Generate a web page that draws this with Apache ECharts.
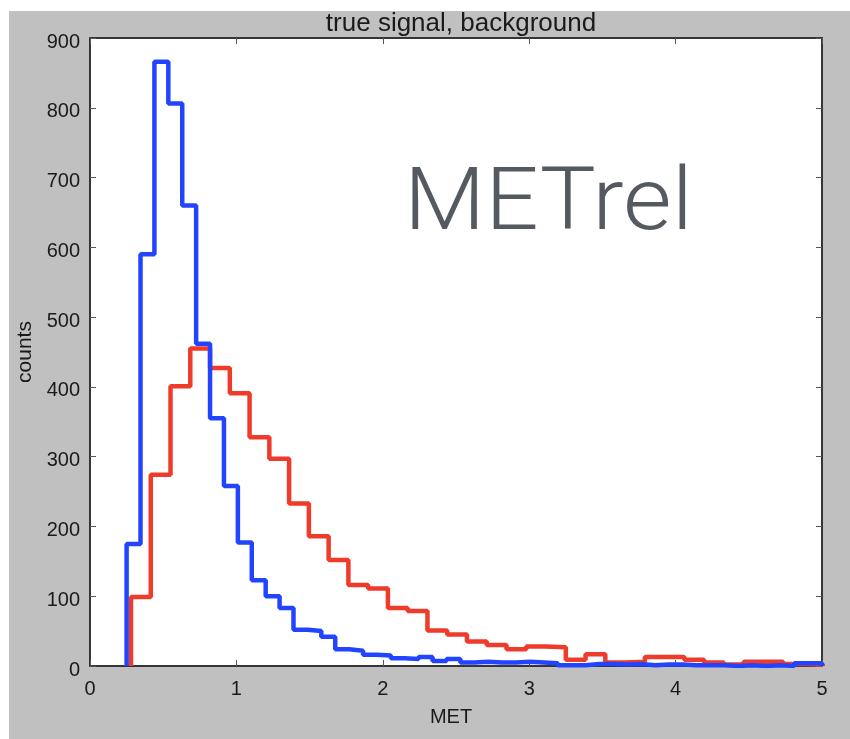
<!DOCTYPE html>
<html>
<head>
<meta charset="utf-8">
<script src="https://cdn.jsdelivr.net/npm/echarts@6/dist/echarts.min.js"></script>
<style>
  html, body { margin: 0; padding: 0; background: #fff; }
  #chart { width: 850px; height: 739px; }
</style>
</head>
<body>
<div id="chart"></div>
<script>
// Histogram of MET for the two samples (bin start, bin width, counts per bin)
const blueStart = 0.25;
const blueWidth = 0.095;
const blueCounts = [
  175, 590, 866, 806, 660, 462, 355, 258, 177, 123,
  100, 83, 52, 50, 42, 24, 22, 16, 15, 11,
  10, 13, 7, 10, 5, 6, 5, 5, 6, 5,
  4, 1, 1, 3, 3, 2, 3, 1, 2, 2,
  1, 1, 1, 0, 1, 0, 1, 0, 4, 4
];

const redStart = 0.28;
const redWidth = 0.135;
const redCounts = [
  99, 274, 401, 455, 427, 391, 328, 297, 233, 186,
  152, 116, 111, 83, 79, 51, 45, 35, 30, 24,
  28, 27, 9, 17, 5, 6, 13, 13, 9, 5,
  2, 6, 6, 3, 2
];

const xTickValues = [0, 1, 2, 3, 4, 5];
const yTickValues = [0, 100, 200, 300, 400, 500, 600, 700, 800, 900];

// Turn bin counts into outline points for a stepped line
function outline(start, width, counts) {
  const pts = [[start, 0]];
  counts.forEach((c, i) => pts.push([start + i * width, c]));
  const end = start + counts.length * width;
  pts.push([end, counts[counts.length - 1]]);
  pts.push([end, 0]);
  return pts;
}

const chart = echarts.init(document.getElementById('chart'));

const FONT = 'Liberation Sans, Arial, sans-serif';
const axisLineStyle = { color: '#2b2b2b', width: 1.5 };
const tickStyle = { show: true, inside: true, length: 6, lineStyle: { color: '#555', width: 1 } };
const labelFont = { color: '#1a1a1a', fontSize: 20, fontFamily: FONT };

function xAxis(position, withLabels) {
  return {
    type: 'value', position: position, min: 0, max: 5, interval: 1,
    axisLine: { show: true, onZero: false, lineStyle: axisLineStyle },
    axisTick: tickStyle,
    splitLine: { show: false },
    axisLabel: withLabels ? Object.assign({ margin: 13, formatter: v => xTickValues.includes(v) ? String(v) : '' }, labelFont) : { show: false },
    name: withLabels ? 'MET' : '',
    nameLocation: 'middle', nameGap: 41,
    nameTextStyle: { color: '#1a1a1a', fontSize: 20, fontFamily: FONT, padding: [0, 10, 0, 0] }
  };
}
function yAxis(position, withLabels) {
  return {
    type: 'value', position: position, min: 0, max: 900, interval: 100,
    axisLine: { show: true, onZero: false, lineStyle: axisLineStyle },
    axisTick: tickStyle,
    splitLine: { show: false },
    axisLabel: withLabels ? Object.assign({ margin: 10, verticalAlign: 'top', lineHeight: 8, formatter: v => yTickValues.includes(v) ? String(v) : '' }, labelFont) : { show: false },
    name: withLabels ? 'counts' : '',
    nameLocation: 'middle', nameGap: 47, nameRotate: 90,
    nameTextStyle: { color: '#1a1a1a', fontSize: 21, fontFamily: FONT }
  };
}

chart.setOption({
  backgroundColor: '#ffffff',
  animation: false,
  title: {
    text: 'true signal, background',
    left: 456, top: 6, textAlign: 'center',
    textStyle: { color: '#1a1a1a', fontSize: 26, fontWeight: 'normal', fontFamily: FONT }
  },
  graphic: [
    { type: 'rect', z: -10, silent: true, shape: { x: 9, y: 11, width: 841, height: 728 }, style: { fill: '#c0c0c0' } },
    {
      type: 'text', z: 100, x: 404, y: 164, scaleX: 1.08, silent: true,
      style: { text: 'METrel', fill: '#555a61', font: '300 87px Roboto, "Liberation Sans", sans-serif', textVerticalAlign: 'top' }
    }
  ],
  grid: { left: 90, right: 28, top: 38, bottom: 73, show: true, backgroundColor: '#ffffff', borderColor: '#2b2b2b', borderWidth: 1.5 },
  xAxis: [xAxis('bottom', true), xAxis('top', false)],
  yAxis: [yAxis('left', true), yAxis('right', false)],
  series: [
    {
      type: 'line', step: 'end', data: outline(redStart, redWidth, redCounts),
      showSymbol: false, clip: true, lineStyle: { color: '#ee3b2a', width: 4.5 }
    },
    {
      type: 'line', step: 'end', data: outline(blueStart, blueWidth, blueCounts),
      showSymbol: false, clip: true, lineStyle: { color: '#2244ff', width: 4.5 }
    }
  ]
});
</script>
</body>
</html>
